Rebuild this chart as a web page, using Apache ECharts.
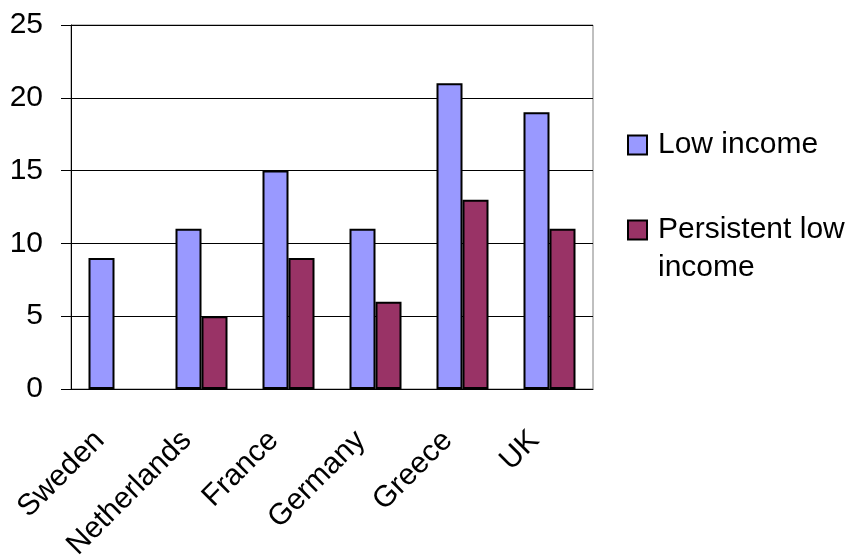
<!DOCTYPE html>
<html>
<head>
<meta charset="utf-8">
<script src="https://cdn.jsdelivr.net/npm/echarts@6/dist/echarts.min.js"></script>
<style>
  html, body { margin: 0; padding: 0; background: #fff; }
  #chart { width: 852px; height: 557px; }
</style>
</head>
<body>
<div id="chart"></div>
<script>
const categories = ['Sweden', 'Netherlands', 'France', 'Germany', 'Greece', 'UK']
const lowIncome = [9, 11, 15, 11, 21, 19]
const persistentLowIncome = ['-', 5, 9, 6, 13, 11]
const yTicks = { min: 0, max: 25, interval: 5 }

const font = "'Liberation Sans', Arial, sans-serif"

const chart = echarts.init(document.getElementById('chart'))

const legendBase = {
    left: 627,
    padding: 0,
    icon: 'rect',
    itemWidth: 19,
    itemHeight: 19,
    itemStyle: { borderColor: '#000', borderWidth: 2 },
    textStyle: { fontFamily: font, fontSize: 30, color: '#000', lineHeight: 38, padding: [0, 0, 0, 6] }
}

const option = {
    animation: false,
    textStyle: { fontFamily: font, color: '#000' },
    grid: {
        left: 71,
        right: 259,
        top: 25,
        bottom: 168,
        outerBoundsMode: 'none',
        containLabel: false,
        show: true,
        borderColor: '#808080',
        borderWidth: 1,
        backgroundColor: 'transparent'
    },
    legend: [
        {
            ...legendBase,
            data: ['Low income'],
            top: 126
        },
        {
            ...legendBase,
            data: ['Persistent low income'],
            top: 173,
            // blank first line keeps the icon level with "Persistent low"
            formatter: () => ' \nPersistent low\nincome'
        }
    ],
    xAxis: {
        type: 'category',
        data: categories,
        axisLine: { lineStyle: { color: '#000', width: 1 } },
        axisTick: { length: 10, lineStyle: { color: '#000' } },
        axisLabel: {
            rotate: 45,
            margin: 32,
            padding: [0, 21, 0, 0],
            interval: 0,
            fontFamily: font,
            fontSize: 30,
            color: '#000'
        }
    },
    yAxis: {
        type: 'value',
        min: yTicks.min,
        max: yTicks.max,
        interval: yTicks.interval,
        axisLine: { show: true, lineStyle: { color: '#000', width: 1 } },
        axisTick: { show: true, length: 10, lineStyle: { color: '#000' } },
        axisLabel: { margin: 28, fontFamily: font, fontSize: 30, color: '#000' },
        splitLine: { lineStyle: { color: '#000', width: 1 } }
    },
    series: [
        {
            name: 'Low income',
            type: 'bar',
            data: lowIncome,
            barWidth: 26,
            barGap: '0%',
            itemStyle: { color: '#9999FF', borderColor: '#000', borderWidth: 2 }
        },
        {
            name: 'Persistent low income',
            type: 'bar',
            data: persistentLowIncome,
            barWidth: 26,
            itemStyle: { color: '#993366', borderColor: '#000', borderWidth: 2 }
        }
    ]
}

chart.setOption(option)
</script>
</body>
</html>
